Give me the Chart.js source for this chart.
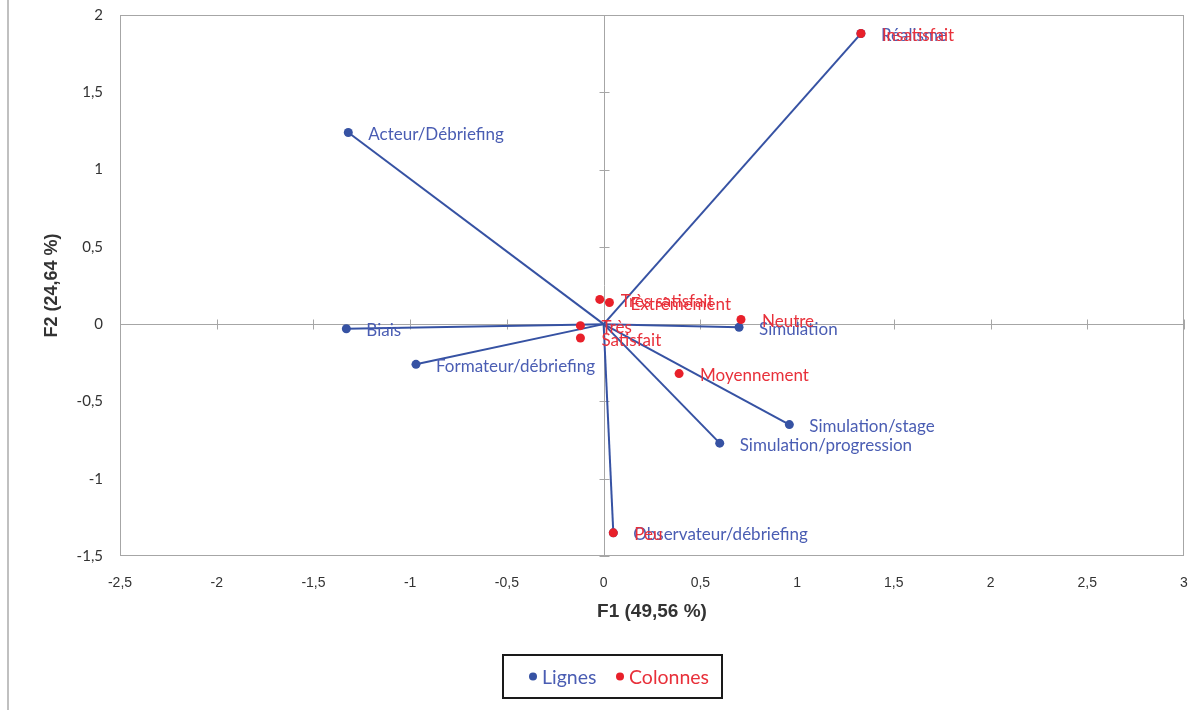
<!DOCTYPE html>
<html>
<head>
<meta charset="utf-8">
<script src="https://cdn.jsdelivr.net/npm/chart.js@4.4.1/dist/chart.umd.min.js"></script>
<style>
  html, body { margin: 0; padding: 0; background: #fff; }
  #wrap { width: 1200px; height: 710px; position: relative; }
</style>
</head>
<body>
<div id="wrap"><canvas id="afc"></canvas></div>
<script>
// Lignes (rows)
const rowLabels = ['Acteur/Débriefing', 'Biais', 'Formateur/débriefing', 'Simulation',
  'Simulation/stage', 'Simulation/progression', 'Observateur/débriefing', 'Réalisme'];
const rowF1 = [-1.32, -1.33, -0.97, 0.70, 0.96, 0.60, 0.05, 1.33];
const rowF2 = [1.24, -0.03, -0.26, -0.02, -0.65, -0.77, -1.35, 1.88];

// Colonnes (columns)
const colLabels = ['Insatisfait', 'Très satisfait', 'Extrêmement', 'Neutre',
  'Très', 'Satisfait', 'Moyennement', 'Peu'];
const colF1 = [1.33, -0.02, 0.03, 0.71, -0.12, -0.12, 0.39, 0.05];
const colF2 = [1.88, 0.16, 0.14, 0.03, -0.01, -0.09, -0.32, -1.35];

const xTicks = [-2.5, -2, -1.5, -1, -0.5, 0, 0.5, 1, 1.5, 2, 2.5, 3];
const yTicks = [-1.5, -1, -0.5, 0, 0.5, 1, 1.5, 2];

const BLUE = '#3652a3';
const BLUE_TXT = '#4a5db3';
const RED = '#e8202a';
const RED_TXT = '#e8303a';
const FONT = 'Lato, "Open Sans", sans-serif';

const fmt = v => String(v).replace('.', ',');

// one segment per row, from the origin to the point
const segments = rowF1.map((x, i) => ({
  label: 'seg' + i,
  data: [{ x: 0, y: 0 }, { x: x, y: rowF2[i] }],
  showLine: true,
  borderColor: BLUE,
  borderWidth: 2,
  pointRadius: 0,
  fill: false
}));

const datasets = [
  {
    label: 'Colonnes',
    data: colF1.map((x, i) => ({ x: x, y: colF2[i] })),
    backgroundColor: RED,
    borderColor: RED,
    pointRadius: 4.5,
    pointBorderWidth: 0
  },
  {
    label: 'Lignes',
    data: rowF1.map((x, i) => ({ x: x, y: rowF2[i] })),
    backgroundColor: BLUE,
    borderColor: BLUE,
    pointRadius: 4.5,
    pointBorderWidth: 0
  },
  ...segments
];

const decor = {
  id: 'decor',
  beforeDraw(chart) {
    const ctx = chart.ctx;
    ctx.save();
    ctx.fillStyle = '#fff';
    ctx.fillRect(0, 0, chart.width, chart.height);
    // outer frame line on the left
    ctx.strokeStyle = '#c0c0c0';
    ctx.lineWidth = 2;
    ctx.beginPath();
    ctx.moveTo(8, 0);
    ctx.lineTo(8, chart.height);
    ctx.stroke();
    ctx.restore();
  },
  beforeDatasetsDraw(chart) {
    const { ctx, chartArea: a, scales: { x, y } } = chart;
    ctx.save();
    ctx.strokeStyle = '#a6a6a6';
    ctx.lineWidth = 1;
    // plot frame
    ctx.strokeRect(a.left + 0.5, a.top + 0.5, a.right - a.left - 1, a.bottom - a.top - 1);
    // zero axes
    const x0 = Math.round(x.getPixelForValue(0)) + 0.5;
    const y0 = Math.round(y.getPixelForValue(0)) + 0.5;
    ctx.beginPath();
    ctx.moveTo(a.left, y0); ctx.lineTo(a.right, y0);
    ctx.moveTo(x0, a.top); ctx.lineTo(x0, a.bottom);
    xTicks.forEach(t => {
      const px = Math.round(x.getPixelForValue(t)) + 0.5;
      ctx.moveTo(px, y0 - 5); ctx.lineTo(px, y0 + 5);
    });
    yTicks.forEach(t => {
      const py = Math.round(y.getPixelForValue(t)) + 0.5;
      ctx.moveTo(x0 - 5, py); ctx.lineTo(x0 + 5, py);
    });
    ctx.stroke();
    ctx.restore();
  },
  afterDatasetsDraw(chart) {
    const ctx = chart.ctx;
    ctx.save();
    ctx.font = '17px ' + FONT;
    ctx.textBaseline = 'middle';
    ctx.textAlign = 'left';
    // blue labels first, red on top
    const blueMeta = chart.getDatasetMeta(1);
    ctx.fillStyle = BLUE_TXT;
    blueMeta.data.forEach((p, i) => ctx.fillText(rowLabels[i], p.x + 20, p.y + 2));
    const redMeta = chart.getDatasetMeta(0);
    ctx.fillStyle = RED_TXT;
    redMeta.data.forEach((p, i) => ctx.fillText(colLabels[i], p.x + 21, p.y + 2));

    // legend box
    const lx = 503, ly = 655, lw = 219, lh = 43;
    ctx.strokeStyle = '#1a1a1a';
    ctx.lineWidth = 2;
    ctx.strokeRect(lx, ly, lw, lh);
    const cy = ly + lh / 2;
    ctx.font = '19.5px ' + FONT;
    const items = [
      { text: chart.data.datasets[1].label, color: BLUE, txt: BLUE_TXT, dx: 30 },
      { text: chart.data.datasets[0].label, color: RED, txt: RED_TXT, dx: 117 }
    ];
    items.forEach(it => {
      ctx.fillStyle = it.color;
      ctx.beginPath();
      ctx.arc(lx + it.dx, cy, 4, 0, Math.PI * 2);
      ctx.fill();
      ctx.fillStyle = it.txt;
      ctx.fillText(it.text, lx + it.dx + 9, cy + 1);
    });
    ctx.restore();
  }
};

new Chart(document.getElementById('afc'), {
  type: 'scatter',
  data: { datasets: datasets },
  options: {
    responsive: true,
    maintainAspectRatio: false,
    animation: false,
    layout: { padding: { left: 30, top: 15, right: 16, bottom: 87 } },
    scales: {
      x: {
        type: 'linear',
        min: -2.5,
        max: 3,
        afterFit: s => { s.height = 67; s.paddingLeft = 0; s.paddingRight = 0; },
        afterBuildTicks: s => { s.ticks = xTicks.map(v => ({ value: v })); },
        grid: { display: false, drawTicks: false },
        border: { display: false },
        ticks: {
          padding: 19,
          color: '#333',
          font: { family: '"Liberation Sans Narrow", "Liberation Sans", sans-serif', size: 14 },
          callback: v => fmt(v)
        },
        title: {
          display: true,
          text: 'F1 (49,56 %)',
          color: '#333',
          padding: 0,
          font: { family: '"Liberation Sans Narrow", "Liberation Sans", sans-serif', size: 19, weight: 'bold' }
        }
      },
      y: {
        type: 'linear',
        min: -1.5,
        max: 2,
        afterFit: s => { s.width = 90; s.paddingTop = 0; s.paddingBottom = 0; },
        afterBuildTicks: s => { s.ticks = yTicks.map(v => ({ value: v })); },
        grid: { display: false, drawTicks: false },
        border: { display: false },
        ticks: {
          padding: 17,
          color: '#333',
          font: { family: FONT, size: 15 },
          callback: v => fmt(v)
        },
        title: {
          display: true,
          text: 'F2 (24,64 %)',
          color: '#333',
          padding: { top: 11, bottom: 0 },
          font: { family: '"Liberation Sans", Arial, sans-serif', size: 18, weight: 'bold' }
        }
      }
    },
    plugins: {
      legend: { display: false },
      tooltip: { enabled: false }
    }
  },
  plugins: [decor]
});
</script>
</body>
</html>
